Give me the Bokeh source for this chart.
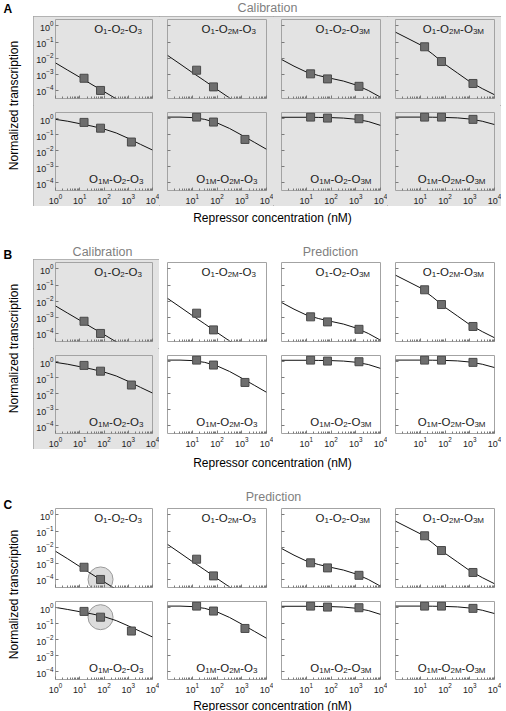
import math
from bokeh.plotting import figure
from bokeh.layouts import row, column
from bokeh.models import Range1d, FixedTicker, ColumnDataSource, CustomJSTickFormatter
from bokeh.core.properties import value
from bokeh.embed import file_html
from bokeh.resources import INLINE

nan = float("nan")
FONT = "Liberation Sans"
GRAY = "#e3e3e3"
EDGE = "#a3a3a3"

# ---------------- data ----------------
conc_nM = [15, 72, 1350]
fit_conc_nM = [1, 3.2, 10, 32, 100, 320, 1000, 3200, 10000]

operator_subscripts = [
    ("1", "2", "3"), ("1", "2M", "3"), ("1", "2", "3M"), ("1", "2M", "3M"),
    ("1M", "2", "3"), ("1M", "2M", "3"), ("1M", "2", "3M"), ("1M", "2M", "3M"),
]

measured_transcription = [
    [5.7e-4, 1.0e-4, nan],
    [1.8e-3, 1.66e-4, nan],
    [1.07e-3, 5.2e-4, 1.8e-4],
    [0.051, 6.2e-3, 2.7e-4],
    [0.60, 0.26, 0.035],
    [1.29, 0.63, 0.051],
    [1.29, 1.12, 1.02],
    [1.29, 1.29, 0.93],
]

fit_transcription = [
    [5.1e-3, 1.8e-3, 6.6e-4, 2.3e-4, 8.5e-5, 3.0e-5, 1.1e-5, 4.0e-6, 1.4e-6],
    [1.5e-2, 4.4e-3, 1.3e-3, 3.9e-4, 1.15e-4, 3.4e-5, 1.0e-5, 3.2e-6, 1.0e-6],
    [8.3e-3, 3.2e-3, 1.4e-3, 8.3e-4, 5.6e-4, 3.8e-4, 2.2e-4, 1.0e-4, 3.8e-5],
    [0.41, 0.166, 0.068, 0.0178, 4.2e-3, 1.2e-3, 3.5e-4, 1.3e-4, 5.4e-5],
    [0.93, 0.71, 0.50, 0.35, 0.23, 0.13, 0.060, 0.025, 0.011],
    [1.29, 1.29, 1.2, 0.93, 0.56, 0.25, 0.095, 0.034, 0.0123],
    [1.26, 1.26, 1.26, 1.23, 1.2, 1.12, 0.95, 0.68, 0.39],
    [1.29, 1.29, 1.29, 1.27, 1.23, 1.15, 0.98, 0.71, 0.44],
]

# section C refits of the two O2-O3 constructs
fit_C_O1_O2_O3 = [5.6e-3, 1.9e-3, 6.3e-4, 2.1e-4, 7.1e-5, 2.4e-5, 8.0e-6, 2.7e-6, 9.0e-7]
fit_C_O1M_O2_O3 = [1.07, 0.79, 0.575, 0.417, 0.282, 0.158, 0.074, 0.033, 0.0148]

x_tick_values = [1, 10, 100, 1000, 10000]
y_tick_values = [1e-4, 1e-3, 1e-2, 1e-1, 1]
x_minor_ticks = [m * d for d in (1, 10, 100, 1000) for m in range(2, 10)]

X_RANGE = (1, 1e4)
Y_RANGE = (10 ** -4.5, 10 ** 0.4)

# ---------------- geometry ----------------
COL_W = [126, 114, 114, 114]
COL_LB = [20, 8, 8, 8]
ROW_H = [89, 101]
ROW_TB = [3, 7]
ROW_BB = [7, 15]

CHAR_W = {"O": 0.778, "-": 0.333, "1": 0.556, "2": 0.556, "3": 0.556, "M": 0.833}
MAIN_PX, SUB_PX = 11.5, 8.0


def label_source(subs, r):
    segs = []
    for k, s in enumerate(subs):
        segs.append(("O" if k == 0 else "-O", False))
        segs.append((s, True))
    widths = [sum(CHAR_W[ch] for ch in t) * (SUB_PX if sub else MAIN_PX) for t, sub in segs]
    pad = 10.5 if r == 0 else 9
    x = -pad - sum(widths)
    xs, ys, texts, xo, yo, sizes = [], [], [], [], [], []
    base = 9.5 if r == 0 else -12.0
    for (t, sub), w in zip(segs, widths):
        xs.append(X_RANGE[1])
        ys.append(Y_RANGE[1] if r == 0 else Y_RANGE[0])
        texts.append(t)
        xo.append(x)
        yo.append(base + (2.5 if sub else 0))
        sizes.append(f"{SUB_PX if sub else MAIN_PX}px")
        x += w
    return ColumnDataSource(dict(x=xs, y=ys, text=texts, xo=xo, yo=yo, size=sizes))


def blank_labels(ax):
    ax.formatter = CustomJSTickFormatter(code="return ''")
    ax.major_label_text_font_size = "0px"
    ax.major_label_standoff = 0


def make_panel(i, shaded, highlight=False, fit=None):
    r, c = divmod(i, 4)
    bg = GRAY if shaded else "white"
    p = figure(width=COL_W[c], height=ROW_H[r], x_axis_type="log", y_axis_type="log",
               x_range=Range1d(*X_RANGE), y_range=Range1d(*Y_RANGE),
               output_backend="svg", toolbar_location=None,
               min_border_left=COL_LB[c], min_border_right=7,
               min_border_top=ROW_TB[r], min_border_bottom=ROW_BB[r])
    p.background_fill_color = bg
    p.border_fill_color = bg
    p.outline_line_color = EDGE
    p.outline_line_width = 1
    p.grid.visible = False
    xa, ya = p.xaxis[0], p.yaxis[0]
    xa.ticker = FixedTicker(ticks=x_tick_values if c == 0 else x_tick_values[1:],
                            minor_ticks=x_minor_ticks)
    ya.ticker = FixedTicker(ticks=y_tick_values)
    for ax in (xa, ya):
        ax.axis_line_color = None
        ax.major_tick_in = 3
        ax.major_tick_out = 0
        ax.minor_tick_in = 2
        ax.minor_tick_out = 0
        ax.major_tick_line_color = "#7a7a7a"
        ax.minor_tick_line_color = "#7a7a7a"
        ax.major_label_text_font = FONT
        ax.major_label_text_font_size = "9px"
        ax.major_label_text_color = "#222222"
    xa.major_label_standoff = 3
    ya.major_label_standoff = 2
    if r == 0:
        blank_labels(xa)
    if c != 0:
        blank_labels(ya)

    meas = measured_transcription[i]
    if highlight:
        p.scatter([conc_nM[1]], [meas[1]], marker="circle", size=25,
                  fill_color="#d6d6d6", fill_alpha=0.85, line_color="#9a9a9a", line_width=1)
    p.line(fit_conc_nM, fit if fit is not None else fit_transcription[i],
           line_color="#111111", line_width=1)
    p.scatter(conc_nM, meas, marker="square", size=8,
              fill_color="#6e6e6e", line_color="#4a4a4a", line_width=1)
    p.text(x="x", y="y", text="text", x_offset="xo", y_offset="yo",
           text_font_size="size", text_font=value(FONT), text_color="#1a1a1a",
           text_baseline="alphabetic", text_align="left",
           source=label_source(operator_subscripts[i], r))
    return p


def blank_fig(w, h, x0, y0):
    p = figure(width=w, height=h, x_range=Range1d(x0, x0 + w), y_range=Range1d(y0 + h, y0),
               output_backend="svg", toolbar_location=None,
               x_axis_location=None, y_axis_location=None, min_border=0)
    p.grid.visible = False
    p.outline_line_color = None
    p.background_fill_color = "white"
    p.border_fill_color = "white"
    return p


BOX_STYLE = {"outline": f"1px solid {EDGE}", "outline-offset": "-1px",
             "background-color": GRAY}


def section(letter, y0, height, titles, shading, highlight_idx, letter_dy, label_dy, xt_dy,
            fits=None):
    fits = fits or {}
    side = blank_fig(33, height, 0, y0)
    side.text(x=[3], y=[y0 + letter_dy], text=[letter], text_font=value(FONT),
              text_font_style="bold", text_font_size="12px", text_color="black",
              text_baseline="middle", text_align="left")
    side.text(x=[13.5], y=[y0 + label_dy], text=["Normalized transcription"], angle=math.pi / 2,
              text_font=value(FONT), text_font_size="12px", text_color="black",
              text_baseline="middle", text_align="center")

    head = blank_fig(468, 16, 33, y0)
    for t, cx, dy in titles:
        head.text(x=[cx], y=[y0 + dy], text=[t], text_font=value(FONT), text_font_size="12.5px",
                  text_color="#7f7f7f", text_baseline="middle", text_align="center")

    foot_h = height - 16 - 190
    foot = blank_fig(468, foot_h, 33, y0 + 206)
    foot.text(x=[272], y=[y0 + xt_dy], text=["Repressor concentration (nM)"],
              text_font=value(FONT), text_font_size="12px", text_color="black",
              text_baseline="middle", text_align="center")

    panels = [make_panel(i, shading[i], i in highlight_idx, fits.get(i)) for i in range(8)]
    if all(shading):
        box = column(row(*panels[:4]), row(*panels[4:]), styles=BOX_STYLE)
    elif shading[0] and shading[4]:
        box = row(column(panels[0], panels[4], styles=BOX_STYLE),
                  column(row(*panels[1:4]), row(*panels[5:8])))
    else:
        box = column(row(*panels[:4]), row(*panels[4:]))
    return row(side, column(head, box, foot))


secA = section("A", 0, 243, [("Calibration", 267, 7)], [True] * 8, [], 8, 105, 217)
secB = section("B", 243, 246, [("Calibration", 102, 8), ("Prediction", 330, 8)],
               [True, False, False, False, True, False, False, False], [], 11, 105, 219)
secC = section("C", 489, 222, [("Prediction", 273, 7)], [False] * 8, [0, 4], 15, 105, 216,
               fits={0: fit_C_O1_O2_O3, 4: fit_C_O1M_O2_O3})

root = column(secA, secB, secC)

open("out.html", "w").write(file_html(root, INLINE))
